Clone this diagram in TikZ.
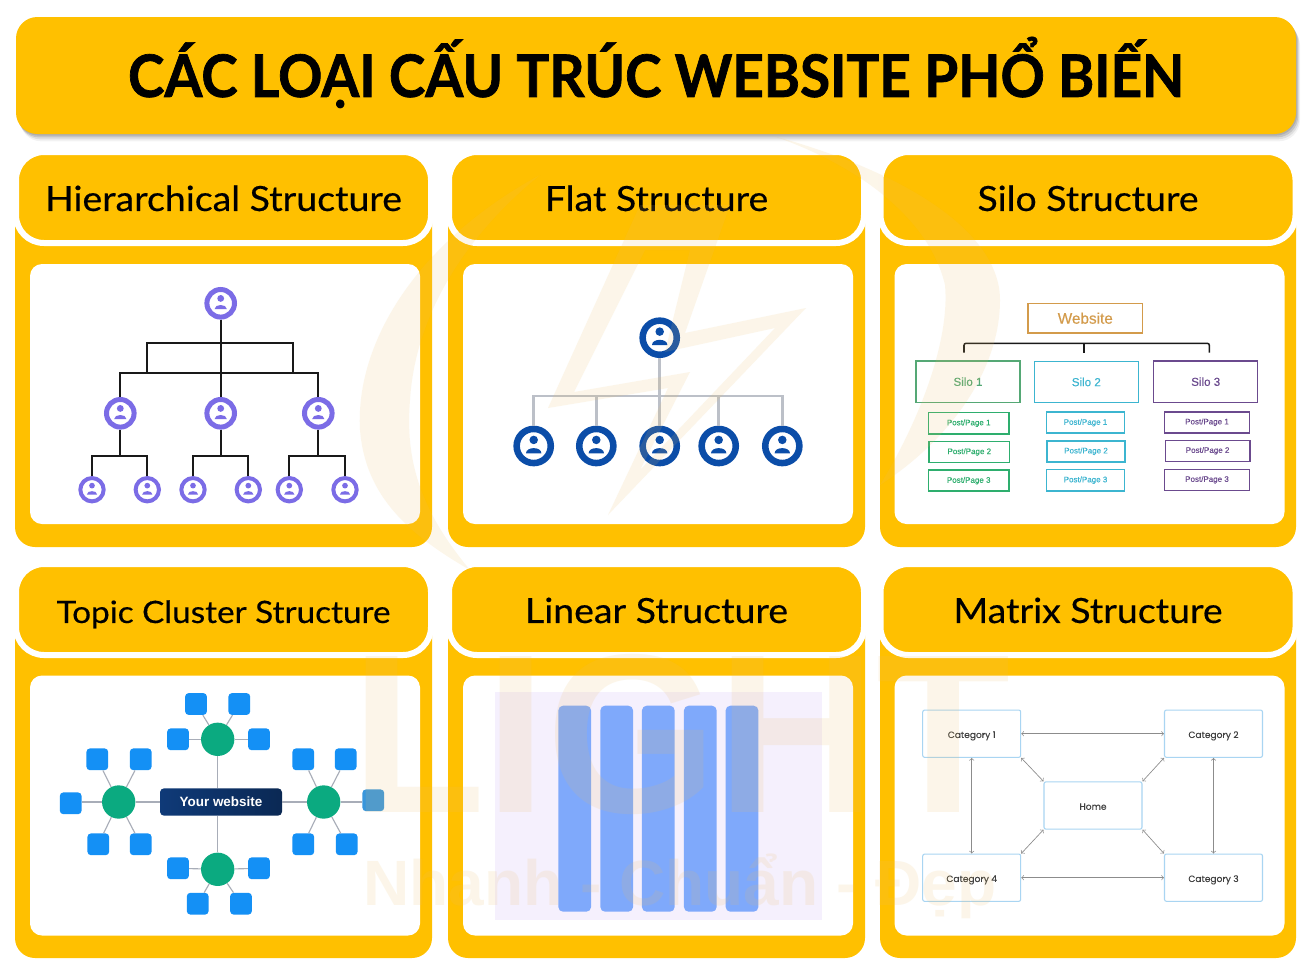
\documentclass[tikz,border=0pt]{standalone}
\usepackage{fontspec}
\setmainfont{Liberation Sans}
\newfontfamily\headfont{Lato}[FakeStretch=1.08,FakeBold=.4]
\newfontfamily\titlefont{Lato}[BoldFeatures={FakeStretch=.935,FakeBold=1.2}]
\newfontfamily\popfont{Poppins}[FakeBold=.2]
\newfontfamily\silofont{Liberation Sans}[FakeBold=.3]
\usetikzlibrary{shadows}
\definecolor{amber}{HTML}{FFC000}
\definecolor{wmark}{RGB}{235,190,100}
\definecolor{hviolet}{HTML}{7B6CE6}
\definecolor{fblue}{HTML}{0B4DA8}
\definecolor{fgrey}{HTML}{BCC0C8}
\definecolor{hubgreen}{HTML}{0BAA80}
\definecolor{leafblue}{HTML}{1490F5}
\definecolor{leafdim}{HTML}{3896DC}
\definecolor{spokegrey}{HTML}{A8ADB8}
\definecolor{laneblue}{HTML}{7FA9FB}
\definecolor{lavender}{HTML}{F5F0FD}
\definecolor{catblue}{HTML}{A9D5F2}
\definecolor{navy}{HTML}{0F3A78}
\definecolor{sitetan}{HTML}{D39B4B}
\definecolor{silogreen}{HTML}{55A875}
\definecolor{postgreen}{HTML}{2EAE6E}
\definecolor{siloblue}{HTML}{3CB5D0}
\definecolor{silopurple}{HTML}{6B4A8E}
\begin{document}
\begin{tikzpicture}[x=.75pt,y=-.75pt]
			\tikzset{panel/.style = {fill=amber,rounded corners=15pt}}
			\tikzset{tab/.style = {fill=amber,draw=white,line width=4.5pt,rounded corners=21pt,minimum width=311.25pt,minimum height=68.25pt,inner sep=0pt,text height=20.2pt,text depth=0pt,font=\headfont\fontsize{26}{30}\selectfont,text=black}}
			\tikzset{card/.style = {fill=white,rounded corners=9pt,minimum width=292.5pt,minimum height=195pt}}
			\tikzset{avatar/.style n args = {4}{shape=circle,draw=#1,fill=white,line width=#3,minimum size=#2,inner sep=0pt,
				path picture={\fill[#1,shift={(path picture bounding box.center)},x=#4,y=#4] (0,.3) circle (.21) (-.38,-.36) .. controls (-.38,-.02) and (.38,-.02) .. (.38,-.36) -- cycle;}}}
			\tikzset{hbig/.style = {avatar={hviolet}{20.7pt}{3.75pt}{12.2pt}}}
			\tikzset{hleaf/.style = {avatar={hviolet}{17.5pt}{3pt}{10.2pt}}}
			\tikzset{flat/.style = {avatar={fblue}{25.6pt}{4.9pt}{15.2pt}}}
			\tikzset{hedge/.style = {draw=black!90,line width=1.3pt}}
			\tikzset{fedge/.style = {draw=fgrey,line width=2pt}}
			\tikzset{silo/.style = {draw=#1,text=#1,line width=1.15pt,minimum width=78pt,minimum height=31pt,inner sep=0pt,font=\silofont\fontsize{8.7}{10}\selectfont}}
			\tikzset{post/.style = {draw=#1,text=#1,line width=1.15pt,minimum height=15.8pt,inner sep=0pt,font=\silofont\fontsize{6}{7}\selectfont}}
			\tikzset{hub/.style = {shape=circle,fill=hubgreen,minimum size=25pt,inner sep=0pt}}
			\tikzset{leaf/.style = {fill=leafblue,rounded corners=2.6pt,minimum size=16.3pt,inner sep=0pt}}
			\tikzset{spoke/.style = {draw=spokegrey,line width=.85pt}}
			\tikzset{lane/.style = {fill=laneblue,rounded corners=3.5pt,minimum width=24.5pt,minimum height=154.5pt,inner sep=0pt}}
			\tikzset{cat/.style = {draw=catblue,fill=white,line width=.8pt,rounded corners=1.5pt,minimum width=73.5pt,minimum height=35.5pt,inner sep=0pt,text height=6.4pt,text depth=0pt,text=black!75,font=\popfont\fontsize{6.8}{8}\selectfont}}
			\tikzset{link/.style = {<->,> = to,draw=black!45,line width=.5pt}}
			\useasboundingbox (0,0) rectangle (1313,968);
			% Draw title
			\node[fill=amber,rounded corners=16pt,minimum width=960pt,minimum height=87.75pt,inner sep=0pt,text height=32.2pt,text depth=0pt,
				drop shadow={shadow xshift=.8pt,shadow yshift=-1.2pt,opacity=.18,fill=black!70},
				drop shadow={shadow xshift=1.6pt,shadow yshift=-2.6pt,opacity=.18,fill=black!70},
				drop shadow={shadow xshift=2.4pt,shadow yshift=-4pt,opacity=.12,fill=black!70},
				drop shadow={shadow xshift=3pt,shadow yshift=-5.5pt,opacity=.07,fill=black!70},
				font=\titlefont\bfseries\fontsize{44}{50}\selectfont] (title) at (656,75.5) {CÁC LOẠI CẤU TRÚC WEBSITE PHỔ BIẾN};
			% Draw panels
			\fill[panel] (15,190) rectangle (432,547);
			\fill[panel] (448,190) rectangle (865,547);
			\fill[panel] (880,190) rectangle (1296,547);
			\fill[panel] (15,602) rectangle (432,958);
			\fill[panel] (448,602) rectangle (865,958);
			\fill[panel] (880,602) rectangle (1296,958);
			\node[tab] (tabA) at (223.5,197.5) {Hierarchical Structure};
			\node[tab] (tabB) at (656.5,197.5) {Flat Structure};
			\node[tab] (tabC) at (1088,197.5) {Silo Structure};
			\node[tab,font=\headfont\fontsize{23.1}{28}\selectfont] (tabD) at (223.5,609.5) {Topic Cluster Structure};
			\node[tab] (tabE) at (656.5,609.5) {Linear Structure};
			\node[tab] (tabF) at (1088,609.5) {Matrix Structure};
			\node[card] (cardA) at (225,394) {};
			\node[card] (cardB) at (658,394) {};
			\node[card] (cardC) at (1089.5,394) {};
			\node[card] (cardD) at (225,805.5) {};
			\node[card] (cardE) at (658,805.5) {};
			\node[card] (cardF) at (1089.5,805.5) {};
			% Draw hierarchical tree
			\node[hbig] (h0) at (220.7,303.3) {};
			\node[hbig] (h1) at (120.3,413.3) {};
			\node[hbig] (h2) at (220.7,413.3) {};
			\node[hbig] (h3) at (318.3,413.3) {};
			\node[hleaf] (h4) at (92,489.7) {};
			\node[hleaf] (h5) at (147.3,489.7) {};
			\node[hleaf] (h6) at (193,489.7) {};
			\node[hleaf] (h7) at (248.3,489.7) {};
			\node[hleaf] (h8) at (289.3,489.7) {};
			\node[hleaf] (h9) at (345,489.7) {};
			\coordinate (hbar) at (220.7,373.3);
			\coordinate (htop) at (220.7,343.3);
			\coordinate (hleft) at (147,373.3);
			\coordinate (hright) at (292.7,373.3);
			\coordinate (hbarA) at (120.3,455.7);
			\coordinate (hbarB) at (220.7,455.7);
			\coordinate (hbarC) at (318.3,455.7);
			\draw[hedge] (h0) -- (h2);
			\draw[hedge] (h1) |- (hbar) -| (h3);
			\draw[hedge] (hleft) |- (htop) -| (hright);
			\draw[hedge] (h1) -- (hbarA);
			\draw[hedge] (h2) -- (hbarB);
			\draw[hedge] (h3) -- (hbarC);
			\draw[hedge] (h4) |- (hbarA) -| (h5);
			\draw[hedge] (h6) |- (hbarB) -| (h7);
			\draw[hedge] (h8) |- (hbarC) -| (h9);
			% Draw flat tree
			\node[flat] (f0) at (659.7,337.7) {};
			\node[flat] (f1) at (533.7,446) {};
			\node[flat] (f2) at (596.3,446) {};
			\node[flat] (f3) at (659.7,446) {};
			\node[flat] (f4) at (718.7,446) {};
			\node[flat] (f5) at (782.3,446) {};
			\coordinate (fbar) at (659.7,396);
			\draw[fedge] (f0) -- (f3);
			\draw[fedge] (f1) |- (fbar) -| (f5);
			\draw[fedge] (f2) -- (f2 |- fbar);
			\draw[fedge] (f4) -- (f4 |- fbar);
			% Draw silos
			\node[silo=sitetan,minimum width=86pt,minimum height=22pt,font=\silofont\fontsize{11.5}{13}\selectfont] (site) at (1085.3,318.2) {Website};
			\node[silo=silogreen] (s1) at (968,381.7) {Silo 1};
			\node[silo=siloblue] (s2) at (1086.3,382) {Silo 2};
			\node[silo=silopurple] (s3) at (1205.7,381.7) {Silo 3};
			\node[post=postgreen,minimum width=60.5pt] (s1a) at (968.7,423.2) {Post/Page 1};
			\node[post=postgreen,minimum width=60.5pt] (s1b) at (969.3,452) {Post/Page 2};
			\node[post=postgreen,minimum width=60.5pt] (s1c) at (968.7,480.7) {Post/Page 3};
			\node[post=siloblue,minimum width=58.8pt] (s2a) at (1085.5,422.7) {Post/Page 1};
			\node[post=siloblue,minimum width=58.8pt] (s2b) at (1086,451.3) {Post/Page 2};
			\node[post=siloblue,minimum width=58.8pt] (s2c) at (1085.5,480.2) {Post/Page 3};
			\node[post=silopurple,minimum width=63.5pt] (s3a) at (1207,422.3) {Post/Page 1};
			\node[post=silopurple,minimum width=63.5pt] (s3b) at (1207.6,450.8) {Post/Page 2};
			\node[post=silopurple,minimum width=63.5pt] (s3c) at (1207,479.8) {Post/Page 3};
			\coordinate (sbar) at (1084,343.3);
			\coordinate (sdropA) at (964,352.7);
			\coordinate (sdropB) at (1084,352.7);
			\coordinate (sdropC) at (1209.3,352.7);
			\draw[black!90,line width=1.15pt,rounded corners=1.5pt] (sdropA) |- (sbar) -| (sdropC);
			\draw[black!90,line width=1.15pt] (sbar) -- (sdropB);
			% Draw topic cluster
			\node[left color=navy,right color=navy!70!black,rounded corners=3pt,minimum width=91.5pt,minimum height=20.5pt,inner sep=0pt,text=white,font=\bfseries\fontsize{10.1}{12}\selectfont] (home) at (221,802) {Your website};
			\node[hub] (t1) at (217.7,739.3) {};
			\node[hub] (t2) at (118.7,802) {};
			\node[hub] (t3) at (323.7,802) {};
			\node[hub] (t4) at (217.7,869.3) {};
			\node[leaf] (t1a) at (196,704) {};
			\node[leaf] (t1b) at (239.3,704) {};
			\node[leaf] (t1c) at (178,739.3) {};
			\node[leaf] (t1d) at (259,739.3) {};
			\node[leaf] (t2a) at (97.3,759.3) {};
			\node[leaf] (t2b) at (140.7,759.3) {};
			\node[leaf] (t2c) at (70.7,803.3) {};
			\node[leaf] (t2d) at (98.3,844.3) {};
			\node[leaf] (t2e) at (140.7,844.3) {};
			\node[leaf] (t3a) at (303.3,759.3) {};
			\node[leaf] (t3b) at (345.7,759.3) {};
			\node[leaf,fill=leafdim] (t3c) at (373.3,800.3) {};
			\node[leaf] (t3d) at (303.3,844.3) {};
			\node[leaf] (t3e) at (346.7,844.3) {};
			\node[leaf] (t4a) at (178,868.3) {};
			\node[leaf] (t4b) at (259,868.3) {};
			\node[leaf] (t4c) at (197.7,903.7) {};
			\node[leaf] (t4d) at (241,903.7) {};
			\draw[spoke] (t1) -- (t1 |- home.north);
			\draw[spoke] (t4) -- (t4 |- home.south);
			\draw[spoke] (t2) -- (home);
			\draw[spoke] (t3) -- (home);
			\draw[spoke] (t1) -- (t1a);
			\draw[spoke] (t1) -- (t1b);
			\draw[spoke] (t1) -- (t1c);
			\draw[spoke] (t1) -- (t1d);
			\draw[spoke] (t2) -- (t2a);
			\draw[spoke] (t2) -- (t2b);
			\draw[spoke] (t2) -- (t2 -| t2c.east);
			\draw[spoke] (t2) -- (t2d);
			\draw[spoke] (t2) -- (t2e);
			\draw[spoke] (t3) -- (t3a);
			\draw[spoke] (t3) -- (t3b);
			\draw[spoke] (t3) -- (t3 -| t3c.west);
			\draw[spoke] (t3) -- (t3d);
			\draw[spoke] (t3) -- (t3e);
			\draw[spoke] (t4) -- (t4a);
			\draw[spoke] (t4) -- (t4b);
			\draw[spoke] (t4) -- (t4c);
			\draw[spoke] (t4) -- (t4d);
			% Draw linear bars
			\node[fill=lavender,minimum width=245pt,minimum height=171.2pt,inner sep=0pt] (back) at (658.3,805.8) {};
			\node[lane] (b1) at (574.7,808.7) {};
			\node[lane] (b2) at (616.7,808.7) {};
			\node[lane] (b3) at (658.3,808.7) {};
			\node[lane] (b4) at (700.3,808.7) {};
			\node[lane] (b5) at (742,808.7) {};
			% Draw matrix
			\node[cat] (c1) at (971.7,733.7) {Category 1};
			\node[cat] (c2) at (1213.5,733.7) {Category 2};
			\node[cat] (c0) at (1093,805.5) {Home};
			\node[cat] (c4) at (971.7,877.7) {Category 4};
			\node[cat] (c3) at (1213.5,877.7) {Category 3};
			\draw[link] (c1) -- (c2);
			\draw[link] (c4) -- (c3);
			\draw[link] (c1) -- (c4);
			\draw[link] (c2) -- (c3);
			\draw[link] (c1.south east) -- (c0.north west);
			\draw[link] (c2.south west) -- (c0.north east);
			\draw[link] (c4.north east) -- (c0.south west);
			\draw[link] (c3.north west) -- (c0.south east);
			% Draw watermark
			\begin{scope}[opacity=.14]
				\fill[wmark] (540,175) .. controls (420,240) and (355,340) .. (360,430) .. controls (365,490) and (400,530) .. (470,570) .. controls (420,510) and (405,460) .. (410,400) .. controls (415,320) and (460,240) .. (540,175) -- cycle;
				\fill[wmark] (770,135) .. controls (900,170) and (1000,230) .. (1000,300) .. controls (1000,370) and (950,440) .. (880,485) .. controls (920,420) and (950,340) .. (945,285) .. controls (930,220) and (860,165) .. (770,135) -- cycle;
				\fill[wmark,even odd rule] (640,205) -- (548,408) -- (668,388) -- (608,515) -- (806,308) -- (685,333) -- (730,205) -- cycle
					(645,250) -- (574,392) -- (690,372) -- (640,470) -- (775,328) -- (665,352) -- (690,250) -- cycle;
				\node[text=wmark,font=\bfseries\fontsize{170}{170}\selectfont,inner sep=0pt,anchor=base,xscale=.97,transform shape] (brand) at (681,812) {LIGHT};
				\node[text=wmark,font=\bfseries\fontsize{48}{50}\selectfont,inner sep=0pt,anchor=base] (motto) at (680,905) {Nhanh - Chuẩn - Đẹp};
			\end{scope}
\end{tikzpicture}
\end{document}
